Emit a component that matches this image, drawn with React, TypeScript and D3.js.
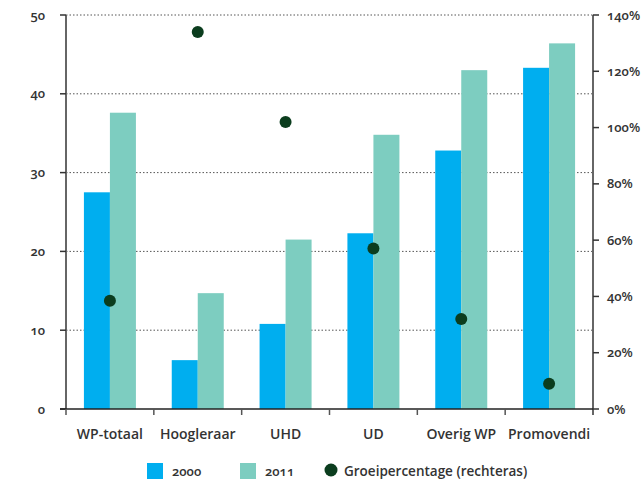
import React from "react";
import * as d3 from "d3";

const categories = ["WP-totaal", "Hoogleraar", "UHD", "UD", "Overig WP", "Promovendi"];
const values2000 = [27.5, 6.2, 10.8, 22.3, 32.8, 43.3];
const values2011 = [37.6, 14.7, 21.5, 34.8, 43.0, 46.4];
const growth = [38.5, 134, 102, 57, 32, 9];
const leftTicks = [0, 10, 20, 30, 40, 50];
const rightTicks = [0, 20, 40, 60, 80, 100, 120, 140];
const seriesNames = ["2000", "2011", "Groeipercentage (rechteras)"];

const C2000 = "#00AEEF";
const C2011 = "#7DCDC0";
const CDOT = "#0B3D1E";
const TEXT = "#333";
const FONT = "'Open Sans', Lato, sans-serif";

export default function App() {
  const left = 66, right = 593, top = 15, bottom = 409;
  const x = d3.scaleBand<string>().domain(categories).range([left, right]).paddingInner(0).paddingOuter(0);
  const yL = d3.scaleLinear().domain([0, 50]).range([bottom, top]);
  const yR = d3.scaleLinear().domain([0, 140]).range([bottom, top]);
  const barW = 26;
  const numStyle: React.CSSProperties = { fontVariantNumeric: "oldstyle-nums" };

  return (
    <svg width={642} height={479} style={{ position: "absolute", left: 0, top: 0, background: "#fff" }} fontFamily={FONT}>
      {leftTicks.filter(t => t > 0).map(t => (
        <line key={"g" + t} x1={left} x2={right} y1={yL(t)} y2={yL(t)} stroke="#555" strokeWidth={1} strokeDasharray="1.5,2" />
      ))}
      {categories.map((c, i) => {
        const cx = x(c)! + x.bandwidth() / 2;
        return (
          <g key={c}>
            <rect x={cx - barW} y={yL(values2000[i])} width={barW} height={bottom - yL(values2000[i])} fill={C2000} />
            <rect x={cx} y={yL(values2011[i])} width={barW} height={bottom - yL(values2011[i])} fill={C2011} />
          </g>
        );
      })}
      <line x1={left} x2={left} y1={top} y2={bottom} stroke="#666" strokeWidth={2} />
      {leftTicks.map(t => (
        <g key={"l" + t}>
          <line x1={left - 6} x2={left} y1={yL(t)} y2={yL(t)} stroke="#333" strokeWidth={1.5} />
          <text x={45} y={yL(t)} dy="0.35em" textAnchor="end" fontSize={13} fontWeight={600} fill={TEXT} style={numStyle}>{t}</text>
        </g>
      ))}
      <line x1={right} x2={right} y1={top} y2={bottom + 6} stroke="#666" strokeWidth={2} />
      {rightTicks.map(t => (
        <g key={"r" + t}>
          <line x1={right} x2={right + 6} y1={yR(t)} y2={yR(t)} stroke="#333" strokeWidth={1.5} />
          <text x={607} y={yR(t)} dy="0.35em" textAnchor="start" fontSize={13} fontWeight={600} fill={TEXT} style={numStyle}>{t + "%"}</text>
        </g>
      ))}
      <line x1={left - 6} x2={right} y1={bottom} y2={bottom} stroke="#222" strokeWidth={1.5} />
      {categories.map((c, i) => (
        <line key={"bt" + i} x1={x(c)!} x2={x(c)!} y1={bottom} y2={bottom + 6} stroke="#555" strokeWidth={1.5} />
      ))}
      {categories.map(c => (
        <text key={"cl" + c} x={x(c)! + x.bandwidth() / 2} y={439} textAnchor="middle" fontSize={14} fontWeight={600} fill={TEXT}>{c}</text>
      ))}
      {categories.map((c, i) => (
        <circle key={"d" + c} cx={x(c)! + x.bandwidth() / 2} cy={yR(growth[i])} r={6} fill={CDOT} />
      ))}
      <rect x={147} y={463} width={16} height={16} fill={C2000} />
      <text x={172} y={476} fontSize={13} fontWeight={600} fill={TEXT} style={numStyle}>{seriesNames[0]}</text>
      <rect x={240} y={463} width={16} height={16} fill={C2011} />
      <text x={265} y={476} fontSize={13} fontWeight={600} fill={TEXT} style={numStyle}>{seriesNames[1]}</text>
      <circle cx={331} cy={470} r={6.5} fill={CDOT} />
      <text x={344} y={476} fontSize={13.5} fontWeight={600} fill={TEXT}>{seriesNames[2]}</text>
    </svg>
  );
}
